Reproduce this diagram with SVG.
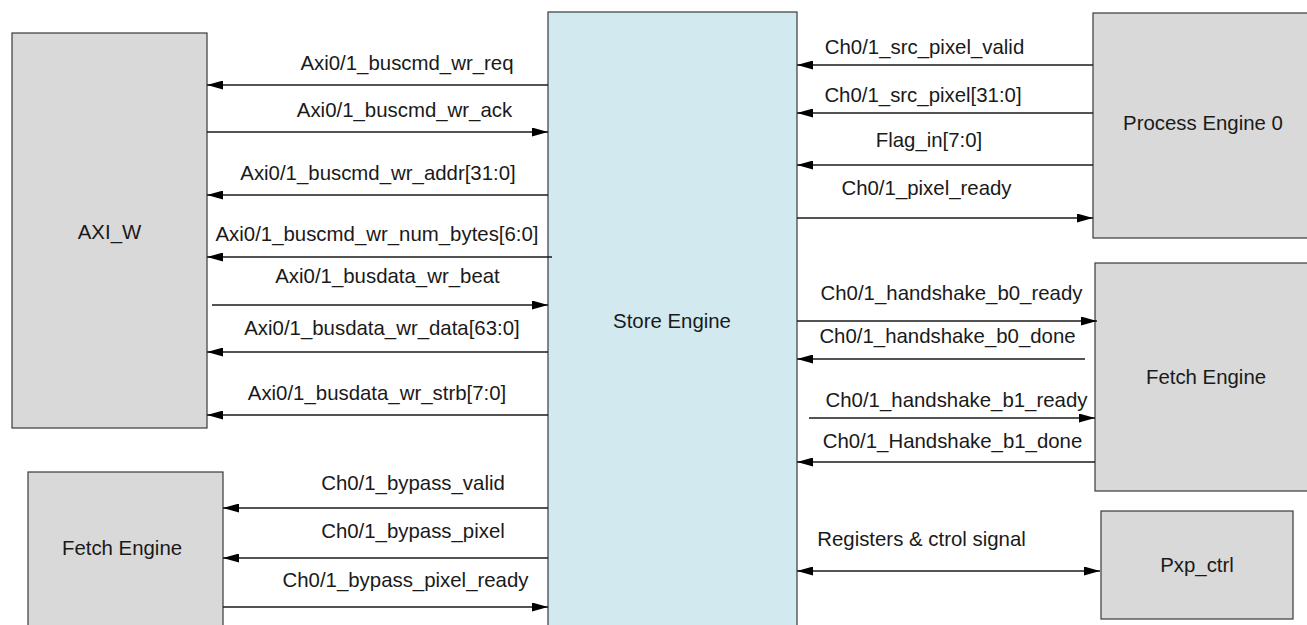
<svg xmlns="http://www.w3.org/2000/svg" width="1307" height="625" viewBox="0 0 1307 625">
<style>
.box{fill:#d9d9d9;stroke:#3a3a3a;stroke-width:1.2}
.store{fill:#d2e9ef;stroke:#3a3a3a;stroke-width:1.2}
text{font-family:"Liberation Sans",Arial,sans-serif;font-size:20.4px;fill:#1a1a1a;text-anchor:middle}
.wire{stroke:#1a1a1a;stroke-width:1.3;fill:none;marker-end:url(#ah)}
.bi{marker-start:url(#ah)}
</style>
<defs>
<marker id="ah" viewBox="0 0 16 9" refX="16" refY="4.5" markerWidth="16" markerHeight="9" markerUnits="userSpaceOnUse" orient="auto-start-reverse">
<path d="M0,0 L16,4.5 L0,9 z" fill="#000"/>
</marker>
</defs>
<rect width="1307" height="625" fill="#fff"/>
<g id="store-engine"><rect class="store" x="548" y="12" width="249" height="630"/><text x="672" y="328">Store Engine</text></g>
<g id="axi-w"><rect class="box" x="12" y="33" width="195" height="395"/><text x="109.5" y="239">AXI_W</text></g>
<g id="fetch-engine-left"><rect class="box" x="28" y="472" width="195" height="170"/><text x="122" y="555">Fetch Engine</text></g>
<g id="process-engine-0"><rect class="box" x="1093" y="13" width="240" height="225"/><text x="1203" y="130">Process Engine 0</text></g>
<g id="fetch-engine-right"><rect class="box" x="1095" y="263" width="240" height="228"/><text x="1206" y="384">Fetch Engine</text></g>
<g id="pxp-ctrl"><rect class="box" x="1101" y="511" width="192" height="108"/><text x="1197" y="572">Pxp_ctrl</text></g>
<g id="connectors">
<path class="wire" d="M548,85H207"/><text x="407" y="70">Axi0/1_buscmd_wr_req</text>
<path class="wire" d="M207,132H548"/><text x="404.5" y="117">Axi0/1_buscmd_wr_ack</text>
<path class="wire" d="M548,195H207"/><text x="378" y="180">Axi0/1_buscmd_wr_addr[31:0]</text>
<path class="wire" d="M552,257H207"/><text x="377" y="241">Axi0/1_buscmd_wr_num_bytes[6:0]</text>
<path class="wire" d="M212,305H548"/><text x="387.5" y="283">Axi0/1_busdata_wr_beat</text>
<path class="wire" d="M548,352H207"/><text x="382" y="335">Axi0/1_busdata_wr_data[63:0]</text>
<path class="wire" d="M548,415H207"/><text x="377" y="400">Axi0/1_busdata_wr_strb[7:0]</text>
<path class="wire" d="M548,508H223"/><text x="413" y="490">Ch0/1_bypass_valid</text>
<path class="wire" d="M548,558H223"/><text x="413" y="538">Ch0/1_bypass_pixel</text>
<path class="wire" d="M223,607H548"/><text x="405.5" y="587">Ch0/1_bypass_pixel_ready</text>
<path class="wire" d="M1093,65H797"/><text x="924.5" y="54">Ch0/1_src_pixel_valid</text>
<path class="wire" d="M1093,113H797"/><text x="923" y="102">Ch0/1_src_pixel[31:0]</text>
<path class="wire" d="M1093,165H797"/><text x="929" y="147">Flag_in[7:0]</text>
<path class="wire" d="M797,218H1093"/><text x="926.5" y="195">Ch0/1_pixel_ready</text>
<path class="wire" d="M797,321H1097"/><text x="951.5" y="300">Ch0/1_handshake_b0_ready</text>
<path class="wire" d="M1085,359H797"/><text x="947.5" y="343">Ch0/1_handshake_b0_done</text>
<path class="wire" d="M809,418H1095"/><text x="956.5" y="407">Ch0/1_handshake_b1_ready</text>
<path class="wire" d="M1095,462H797"/><text x="952.5" y="448">Ch0/1_Handshake_b1_done</text>
<path class="wire bi" d="M797,571H1100"/><text x="921.5" y="546">Registers &amp; ctrol signal</text>
</g>
</svg>
